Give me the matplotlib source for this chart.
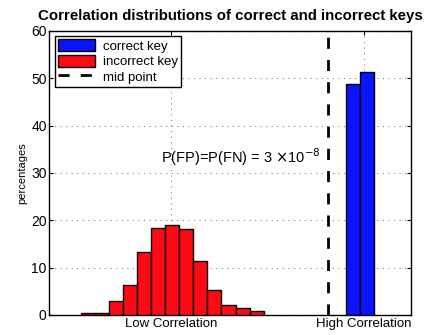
import numpy as np
import matplotlib
matplotlib.use('Agg')
import matplotlib.pyplot as plt

plt.rcParams['font.family'] = ['Liberation Sans', 'DejaVu Sans']

# bin width and left edges (correlation units)
bin_width = 0.04
incorrect_edges = 0.09 + bin_width * np.arange(13)
incorrect_pct = [0.5, 0.5, 2.9, 6.3, 13.3, 18.4, 19.0, 18.2, 11.4, 5.2, 2.0, 1.4, 0.8]
correct_edges = [0.845, 0.885]
correct_pct = [48.8, 51.2]
mid_point = 0.794

tick_pos = [0.346, 0.895]
tick_labels = ['Low Correlation', 'High Correlation']

fig = plt.figure(figsize=(4.34, 3.35), dpi=100)
ax = fig.add_axes([0.114, 0.06, 0.833, 0.848])

b1 = ax.bar(correct_edges, correct_pct, width=bin_width, align='edge',
            color='#0a14ff', edgecolor='black', linewidth=1.0, label='correct key', zorder=3)
b2 = ax.bar(incorrect_edges, incorrect_pct, width=bin_width, align='edge',
            color='#ff0a14', edgecolor='black', linewidth=1.0, label='incorrect key', zorder=3)
ln = ax.axvline(mid_point, color='black', linestyle=(0, (4, 4)), linewidth=2,
                label='mid point', zorder=4)

ax.text(0.545, 33.3, r'P(FP)=P(FN) = 3 $\times$10$^{-8}$', ha='center', va='center',
        fontsize=10.5)

ax.set_xlim(0, 1.03)
ax.set_ylim(0, 60)
ax.set_xticks(tick_pos)
ax.set_xticklabels(tick_labels, fontsize=9.5)
ax.set_yticks(range(0, 61, 10))
ax.tick_params(axis='y', labelsize=10)
ax.tick_params(direction='in', length=3, top=True, right=True, pad=2)
ax.set_ylabel('percentages', fontsize=8, labelpad=3)
ax.grid(True, linestyle=(0, (1, 4)), color='#888888', linewidth=0.8)
for s in ax.spines.values():
    s.set_linewidth(1.0)

ax.set_title('Correlation distributions of correct and incorrect keys',
             fontsize=10.8, fontweight='bold', pad=8)

leg = ax.legend([b1, b2, ln], ['correct key', 'incorrect key', 'mid point'],
                loc='upper left', fontsize=9.5, fancybox=False, framealpha=1,
                edgecolor='black', borderaxespad=0.4, handlelength=2.8,
                handleheight=1.0, labelspacing=0.15, borderpad=0.25,
                handletextpad=0.6)
leg.get_frame().set_linewidth(1.0)

fig.savefig('out.png', dpi=100)
